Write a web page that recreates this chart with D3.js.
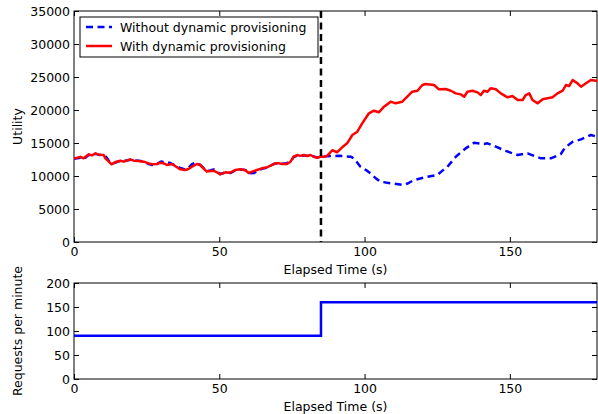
<!DOCTYPE html>
<html>
<head>
<meta charset="utf-8">
<script src="https://cdn.jsdelivr.net/npm/d3@7/dist/d3.min.js"></script>
<style>
  html, body { margin: 0; padding: 0; background: #fff; }
  svg { display: block; }
  text { font-family: "DejaVu Sans", sans-serif; fill: #000; }
</style>
</head>
<body>
<svg id="chart" width="598" height="414"></svg>
<script>
// Utility over time with dynamic provisioning (seconds, utility)
const timeWith = [0, 2.2, 3.3, 5.1, 6.2, 7.4, 8.5, 10.2, 10.8, 12, 12.9, 14.3, 16, 17.1, 19.4, 20.6, 22.3, 24, 25.7, 26.9, 28.6, 29.7, 30.8, 32, 33.7, 34.8, 36.6, 38.3, 39.4, 40.6, 42.3, 43.4, 44.6, 45.7, 46.9, 48, 49.2, 50.3, 52.1, 53.8, 55.5, 57.2, 59, 60.1, 61.3, 63, 64.7, 66.4, 68.2, 69.3, 70.4, 71.6, 73.3, 74.5, 75.6, 76.8, 77.9, 79.1, 80.2, 81.4, 82.5, 83.7, 84.8, 86, 87.1, 88.9, 90.6, 92.3, 94, 95.8, 97.5, 99.2, 101.5, 103.2, 104.9, 106.7, 109, 110.7, 113, 114.7, 116.4, 118.2, 119.9, 121, 123.9, 125.6, 127.9, 129.7, 131.4, 133.1, 134.3, 135.4, 137.1, 138.9, 140, 141.1, 142.3, 143.4, 145.2, 146.9, 149.2, 150.9, 152.7, 154.4, 155.5, 156.7, 157.8, 159.6, 161.3, 163, 164.7, 166.4, 168.2, 169.3, 170.4, 171.6, 173.3, 174.5, 176.2, 177.9, 179.7, 180];
const utilityWith = [12650, 12900, 12680, 13280, 13130, 13430, 13230, 13180, 12680, 12170, 11770, 12120, 12320, 12170, 12520, 12320, 12270, 12170, 11920, 11770, 11820, 12020, 11920, 11670, 11820, 11510, 11010, 10910, 11060, 11410, 11820, 11670, 11160, 10660, 10760, 10810, 10560, 10250, 10560, 10500, 10910, 11010, 10880, 10450, 10660, 10910, 11160, 11310, 11670, 11920, 11920, 11820, 11820, 12170, 12920, 13180, 13050, 13180, 13030, 13180, 12920, 12770, 12920, 12920, 13050, 13900, 13600, 14350, 14950, 16210, 16710, 17980, 19500, 19890, 19650, 20500, 21260, 21010, 21260, 22010, 22770, 22920, 23790, 23940, 23790, 23130, 23180, 22920, 22520, 22370, 22010, 22770, 22920, 22670, 22270, 22920, 22770, 23280, 23130, 22520, 21920, 22120, 21510, 21510, 22270, 22520, 21510, 21010, 21620, 21770, 21920, 22520, 22920, 23790, 23630, 24540, 24040, 23530, 24040, 24540, 24440, 24290];

// Utility over time without dynamic provisioning
const timeWithout = [0, 2.2, 3.3, 5.1, 6.2, 7.4, 8.5, 10.2, 11, 12, 12.9, 14.3, 16, 17.1, 19.4, 20.6, 22.3, 24, 25.7, 26.9, 28.6, 30, 31, 33, 34.8, 36.6, 38.3, 39.4, 40.6, 41.6, 43.4, 44.6, 45.7, 46.9, 48, 49.2, 50.3, 52.1, 53.8, 55.5, 57.2, 59, 60.1, 62, 63, 64.7, 66.4, 68.2, 69.3, 70.4, 71.6, 73.3, 74.5, 75.6, 76.8, 78, 79.1, 80.2, 81.4, 82.5, 83.7, 84.8, 86, 88.3, 91, 93, 95.2, 96.3, 98.6, 100.5, 102, 104, 105.5, 109, 111, 113.6, 115, 117, 121.6, 125, 126.5, 128.5, 131.4, 134.8, 137.7, 141.1, 142.3, 145.2, 148.6, 150.5, 152.7, 156.1, 159.6, 160.7, 164.1, 167.5, 169, 171.5, 174.5, 177.9, 180];
const utilityWithout = [12600, 12750, 12550, 13200, 13050, 13350, 13200, 13250, 12900, 12300, 11850, 12050, 12300, 12250, 12450, 12350, 12300, 12200, 11800, 11650, 11850, 12200, 12050, 12000, 11600, 11200, 11000, 11250, 11800, 12000, 11700, 11200, 10800, 10850, 11000, 10700, 10300, 10550, 10450, 10850, 11000, 10900, 10400, 10450, 10800, 11100, 11250, 11700, 11900, 11900, 11850, 11950, 12250, 12850, 13100, 12950, 13150, 13050, 13150, 12950, 12800, 12900, 12950, 13030, 13050, 13000, 12920, 12680, 11410, 10900, 10400, 9600, 9140, 8890, 8800, 8640, 8900, 9390, 9890, 10150, 10700, 11400, 12920, 14190, 15040, 14850, 14950, 14440, 13800, 13500, 13180, 13430, 12850, 12680, 12680, 13300, 14300, 15150, 15550, 16210, 15950];

// Request rate schedule (requests per minute), stepping up at 85 s
const timeRequests = [0, 85, 180];
const requestsPerMinute = [90, 160, 160];

const switchTime = 85;
const utilityTicks = [0, 5000, 10000, 15000, 20000, 25000, 30000, 35000];
const requestTicks = [0, 50, 100, 150, 200];
const timeTicks = [0, 50, 100, 150];
const seriesNames = ["Without dynamic provisioning", "With dynamic provisioning"];

const svg = d3.select("#chart");
const left = 74, right = 597;
const top1 = 11, bottom1 = 242;
const top2 = 283, bottom2 = 379;
const tickLen = 5;
const fontSize = 12.5;

const x = d3.scaleLinear().domain([0, 180]).range([left, right]);
const y1 = d3.scaleLinear().domain([0, 35000]).range([bottom1, top1]);
const y2 = d3.scaleLinear().domain([0, 200]).range([bottom2, top2]);

const defs = svg.append("defs");
defs.append("clipPath").attr("id", "clipTop").append("rect")
  .attr("x", left).attr("y", top1).attr("width", right - left).attr("height", bottom1 - top1);
defs.append("clipPath").attr("id", "clipBottom").append("rect")
  .attr("x", left).attr("y", top2).attr("width", right - left).attr("height", bottom2 - top2);

function drawFrame(yScale, yTicks, top, bottom, xTitle, yTitle, yTitleX) {
  const g = svg.append("g");
  // inward ticks: left and bottom with labels, top and right unlabeled
  g.append("g").attr("transform", `translate(${left},0)`)
    .call(d3.axisLeft(yScale).tickValues(yTicks).tickSize(-tickLen).tickPadding(4).tickFormat(d3.format("d")))
    .call(a => a.select(".domain").remove());
  g.append("g").attr("transform", `translate(${right},0)`)
    .call(d3.axisRight(yScale).tickValues(yTicks).tickSize(-tickLen).tickFormat(""))
    .call(a => a.select(".domain").remove());
  g.append("g").attr("transform", `translate(0,${bottom})`)
    .call(d3.axisBottom(x).tickValues(timeTicks).tickSize(-tickLen).tickPadding(5).tickFormat(d3.format("d")))
    .call(a => a.select(".domain").remove());
  g.append("g").attr("transform", `translate(0,${top})`)
    .call(d3.axisTop(x).tickValues(timeTicks).tickSize(-tickLen).tickFormat(""))
    .call(a => a.select(".domain").remove());
  g.selectAll(".tick line").attr("stroke", "#000").attr("stroke-width", 1);
  g.selectAll(".tick text").attr("font-size", fontSize).attr("font-family", "DejaVu Sans").attr("fill", "#000");
  g.append("rect").attr("x", left).attr("y", top).attr("width", right - left).attr("height", bottom - top)
    .attr("fill", "none").attr("stroke", "#000").attr("stroke-width", 1);
  svg.append("text").attr("x", (left + right) / 2).attr("y", bottom + 32)
    .attr("text-anchor", "middle").attr("font-size", fontSize).text(xTitle);
  svg.append("text").attr("transform", `translate(${yTitleX},${(top + bottom) / 2}) rotate(-90)`)
    .attr("text-anchor", "middle").attr("font-size", fontSize).text(yTitle);
}

// Top panel: utility
drawFrame(y1, utilityTicks, top1, bottom1, "Elapsed Time (s)", "Utility", 22);

const lineTop = d3.line().x(d => x(d[0])).y(d => y1(d[1]));
const plotTop = svg.append("g").attr("clip-path", "url(#clipTop)");

plotTop.append("path")
  .datum(d3.zip(timeWithout, utilityWithout))
  .attr("d", lineTop).attr("fill", "none").attr("stroke", "#0000ff")
  .attr("stroke-width", 2.5).attr("stroke-dasharray", "7,4.5").attr("stroke-linejoin", "round");

plotTop.append("path")
  .datum(d3.zip(timeWith, utilityWith))
  .attr("d", lineTop).attr("fill", "none").attr("stroke", "#ff0000")
  .attr("stroke-width", 2.5).attr("stroke-linejoin", "round");

// Marker for the moment the request rate changes
plotTop.append("line")
  .attr("x1", x(switchTime)).attr("x2", x(switchTime))
  .attr("y1", y1(35000)).attr("y2", y1(0))
  .attr("stroke", "#000").attr("stroke-width", 2.5).attr("stroke-dasharray", "7,4.5");

// Legend
const legend = svg.append("g");
legend.append("rect").attr("x", 80).attr("y", 17).attr("width", 238).attr("height", 40)
  .attr("fill", "#fff").attr("stroke", "#000").attr("stroke-width", 1);
const legendRows = [
  { name: seriesNames[0], color: "#0000ff", dash: "7,4.5", y: 27 },
  { name: seriesNames[1], color: "#ff0000", dash: null, y: 46 }
];
legendRows.forEach(r => {
  legend.append("line").attr("x1", 86).attr("x2", 112).attr("y1", r.y).attr("y2", r.y)
    .attr("stroke", r.color).attr("stroke-width", 2.5)
    .attr("stroke-dasharray", r.dash);
  legend.append("text").attr("x", 120).attr("y", r.y + 4.5).attr("font-size", fontSize).text(r.name);
});

// Bottom panel: request rate
drawFrame(y2, requestTicks, top2, bottom2, "Elapsed Time (s)", "Requests per minute", 22);

const lineBottom = d3.line().x(d => x(d[0])).y(d => y2(d[1])).curve(d3.curveStepAfter);
svg.append("g").attr("clip-path", "url(#clipBottom)")
  .append("path")
  .datum(d3.zip(timeRequests, requestsPerMinute))
  .attr("d", lineBottom).attr("fill", "none").attr("stroke", "#0000ff").attr("stroke-width", 2.5);
</script>
</body>
</html>
